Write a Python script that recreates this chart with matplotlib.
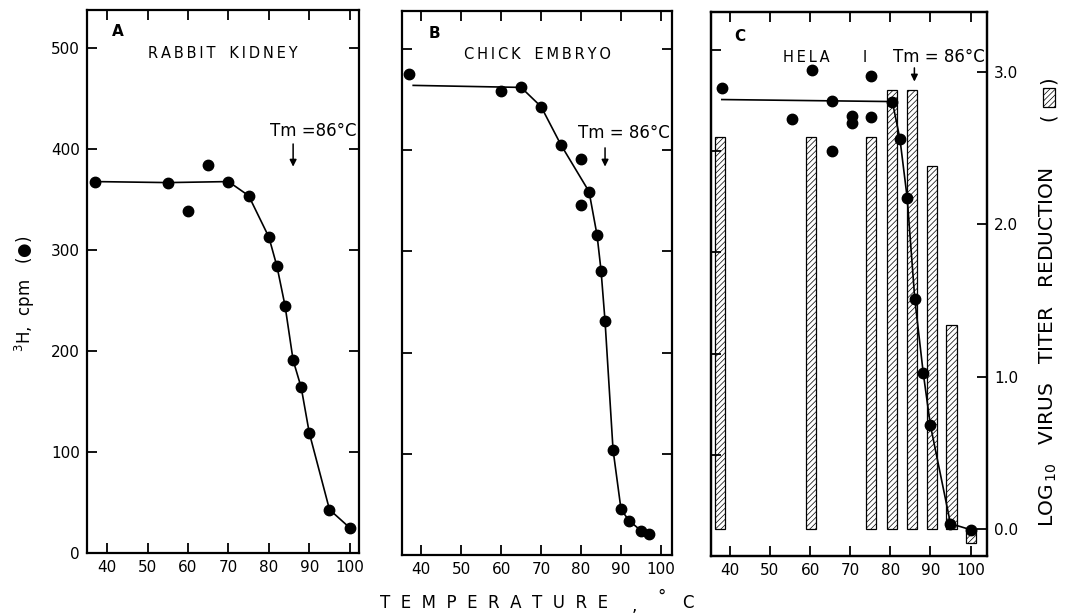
import matplotlib
matplotlib.use('Agg')
import matplotlib.pyplot as plt
from matplotlib.patches import Rectangle

# ---------------------------------------------------------- Data ----------------------------------------------------------

# Panel A - rabbit kidney, 3H cpm vs temperature
temp_a = [37, 55, 60, 65, 70, 75, 80, 82, 84, 86, 88, 90, 95, 100]
cpm_a = [368, 367, 339, 384, 368, 354, 313, 284, 245, 191, 164, 119, 43, 25]
curve_a_x = [37, 55, 70, 75, 80, 82, 84, 86, 88, 90, 95, 100]          # hand drawn curve (skips the two outliers)
curve_a_y = [368, 367, 368, 354, 313, 284, 245, 191, 164, 119, 43, 25]

# Panel B - chick embryo
temp_b = [37, 60, 65, 70, 75, 80, 80, 82, 84, 85, 86, 88, 90, 92, 95, 97]
cpm_b = [475, 458, 462, 443, 405, 391, 346, 359, 316, 281, 231, 104, 45, 34, 24, 21]
curve_b_x = [38, 65, 70, 75, 82, 84, 85, 86, 88, 90, 92, 95, 97]
curve_b_y = [464, 462, 443, 405, 359, 316, 281, 231, 104, 45, 34, 24, 21]

# Panel C - HeLa I, dots on the cpm axis, bars on the log10 titer reduction axis
temp_c = [38, 55.6, 60.6, 65.5, 65.5, 70.5, 70.5, 75.3, 75.3, 80.5, 82.4, 84.2, 86.1, 88.2, 90, 95, 100]
cpm_c = [462, 432, 480, 450, 400, 435, 428, 474, 434, 449, 412, 354, 254, 181, 129, 32, 26]
curve_c_x = [38, 80.5, 82.4, 84.2, 86.1, 88.2, 90, 95, 100]
curve_c_y = [451, 449, 412, 354, 254, 181, 129, 32, 26]

bar_temp = [37.5, 60.2, 75.25, 80.45, 85.45, 90.4, 95.2, 100.15]
bar_log = [2.57, 2.57, 2.57, 2.88, 2.88, 2.38, 1.34, -0.09]

x_ticks = [40, 50, 60, 70, 80, 90, 100]
cpm_ticks = [0, 100, 200, 300, 400, 500]
log_ticks = [0, 1, 2, 3]
log_labels = ['0.0', '1.0', '2.0', '3.0']

tm = 86

# ---------------------------------------------------------- Plot section ----------------------------------------------------------

plt.rcParams['hatch.linewidth'] = 0.5          # thin hatch lines like the printed bars

W, H = 1068, 615
fig = plt.figure(figsize=(W / 100, H / 100), dpi=100)


def px_axes(left, top, right, bottom):
    # axes placed with pixel edges measured on the reference
    return fig.add_axes([left / W, 1 - bottom / H, (right - left) / W, (bottom - top) / H])


def spread(text):
    # letter spaced lettering like the original figure
    return '   '.join('\u2009'.join(w) for w in text.split())


def style(ax, left_labels=False, right_ticks=True):
    for s in ax.spines.values():
        s.set_linewidth(1.6)
    ax.set_xticks(x_ticks)
    ax.set_yticks(cpm_ticks)
    ax.tick_params(direction='in', length=7, width=1.3, top=True, right=right_ticks,
                   labelsize=11, pad=5, labelleft=left_labels)


def draw_panel(ax, tx, ty, cx, cy):
    ax.plot(cx, cy, color='k', lw=1.2, zorder=3)
    ax.plot(tx, ty, 'o', color='k', ms=7.5, zorder=4)


def tm_label(ax, tx, ty, y_top, y_bot, text):
    ax.text(tx, ty, text, fontsize=12, ha='center', va='center')
    ax.annotate('', xy=(tm, y_bot), xytext=(tm, y_top),
                arrowprops=dict(arrowstyle='-|>', color='k', lw=1.1, mutation_scale=10))


# Panel A
ax1 = px_axes(87, 10, 359, 553)
draw_panel(ax1, temp_a, cpm_a, curve_a_x, curve_a_y)
ax1.set_xlim(35, 102.3)
ax1.set_ylim(0, 538)
style(ax1, left_labels=True)
ax1.text(41.1, 517, 'A', fontsize=11, fontweight='bold', ha='left', va='center')
ax1.text(68.7, 495, spread('RABBIT KIDNEY'), fontsize=10.5, ha='center', va='center')
tm_label(ax1, 91.1, 418, 408, 380, 'Tm =86°C')

# Panel B
ax2 = px_axes(402, 11, 672, 555)
draw_panel(ax2, temp_b, cpm_b, curve_b_x, curve_b_y)
ax2.set_xlim(35.2, 102.75)
ax2.set_ylim(0, 537.5)
style(ax2)
ax2.text(41.75, 515, 'B', fontsize=11, fontweight='bold', ha='left', va='center')
ax2.text(69, 494.5, spread('CHICK EMBRYO'), fontsize=10.5, ha='center', va='center')
tm_label(ax2, 90.8, 417, 405, 381, 'Tm = 86°C')

# Panel C with the titer reduction bars on a second y axis
ax3 = px_axes(711, 12, 987, 556)
ax4 = ax3.twinx()
ax4.bar(bar_temp, bar_log, width=2.6, color='white', edgecolor='k', linewidth=0.9, hatch='//////', zorder=2)
ax4.set_ylim(-0.177, 3.392)
ax4.set_yticks(log_ticks)
ax4.set_yticklabels(log_labels)
ax4.tick_params(direction='in', length=7, width=1.3, labelsize=11, pad=5, left=False)
ax3.set_zorder(ax4.get_zorder() + 1)                                       # dots and curve above the bars
ax3.patch.set_visible(False)
draw_panel(ax3, temp_c, cpm_c, curve_c_x, curve_c_y)
ax3.set_xlim(35.3, 104.1)
ax3.set_ylim(0, 537.5)
style(ax3, right_ticks=False)
for s in ax4.spines.values():
    s.set_linewidth(1.6)
ax3.text(41.2, 513, 'C', fontsize=11, fontweight='bold', ha='left', va='center')
ax3.text(53.3, 493, spread('HELA'), fontsize=10.5, ha='left', va='center')
ax3.text(73.7, 493, 'I', fontsize=10.5, ha='center', va='center')
tm_label(ax3, 92.1, 493, 485, 466, 'Tm = 86°C')

# Axis titles placed on the figure
fig.text(25 / W, 1 - 294 / H, '$^{3}$H,  cpm   (●)', rotation=90, fontsize=12, ha='center', va='center')
fig.text(494 / W, 1 - 603 / H, '  '.join('TEMPERATURE'), fontsize=12, ha='center', va='center')
fig.text(634 / W, 1 - 606 / H, ',', fontsize=12, ha='center', va='center')
fig.text(662 / W, 1 - 597 / H, '°', fontsize=12, ha='center', va='center')
fig.text(688 / W, 1 - 603 / H, 'C', fontsize=12, ha='center', va='center')

fig.text(1048 / W, 1 - 527 / H, 'LOG$_{\\,10}$   VIRUS   TITER   REDUCTION', rotation=90, fontsize=14.5,
         ha='center', va='bottom')
fig.text(1048 / W, 1 - 117 / H, '(', rotation=90, fontsize=14, ha='center', va='center')
fig.text(1048 / W, 1 - 80 / H, ')', rotation=90, fontsize=14, ha='center', va='center')
fig.patches.append(Rectangle((1043 / W, 1 - 107 / H), 12 / W, 19 / H, transform=fig.transFigure,
                             facecolor='white', edgecolor='k', linewidth=0.9, hatch='//////'))

fig.savefig('out.png', dpi=100)
